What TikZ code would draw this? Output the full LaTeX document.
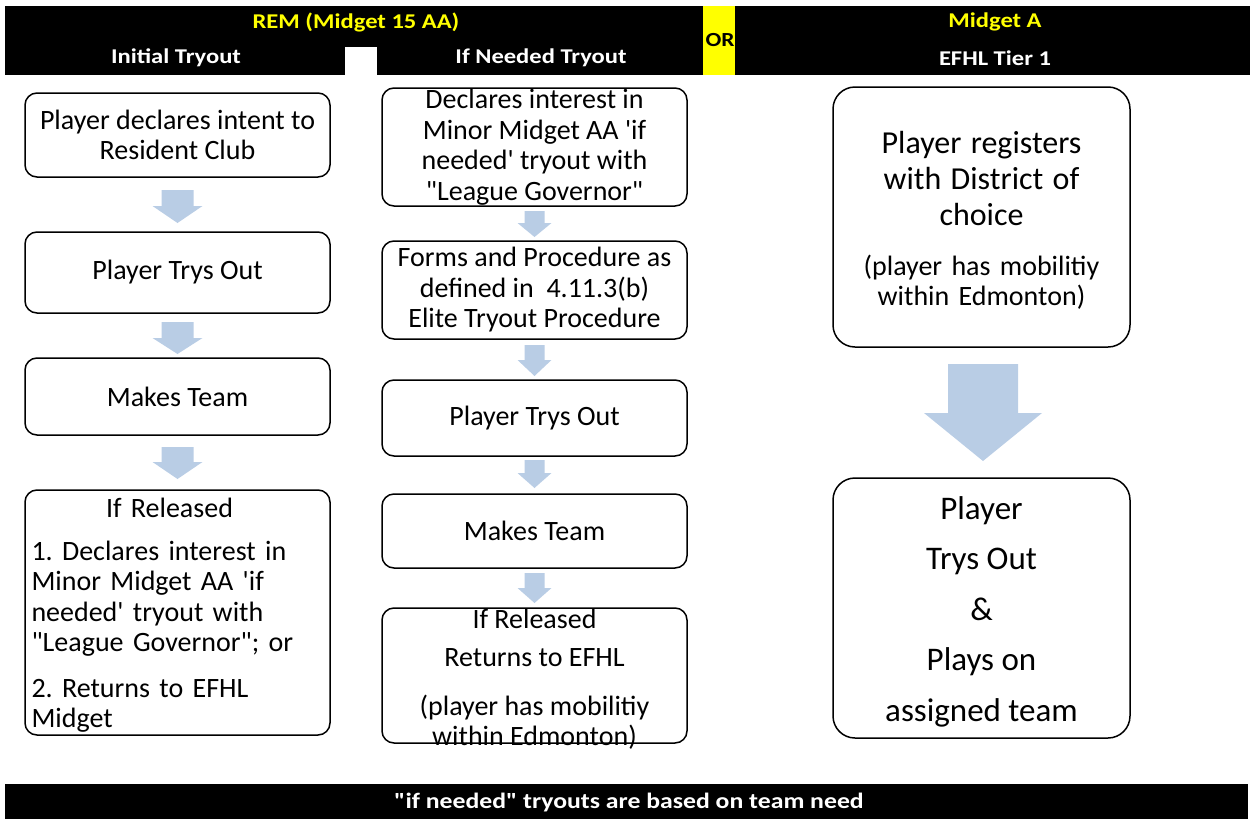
\documentclass[tikz,border=0pt]{standalone}
\usepackage{fontspec}
\setmainfont{Carlito}[Ligatures=TeXOff]
\newfontfamily\hdrfont{Carlito}[Ligatures=TeXOff, FakeStretch=1.17]
\frenchspacing
\definecolor{arrowblue}{HTML}{B9CDE5}
\definecolor{hdryellow}{HTML}{FFFF00}
\newcommand\barrow[6]{% cx, ytop, ybase, ytip, shafthalf, headhalf
  \fill[arrowblue] (#1-#5,#2) -- (#1+#5,#2) -- (#1+#5,#3) -- (#1+#6,#3) -- (#1,#4) -- (#1-#6,#3) -- (#1-#5,#3) -- cycle;}
\tikzset{
  box/.style={draw, line width=1.5pt, rounded corners=12pt, align=center, inner sep=0pt,
    font=\fontsize{28}{30.5}\selectfont},
  bigbox/.style={box, rounded corners=22pt},
  hdr/.style={font=\hdrfont\bfseries\fontsize{21}{24}\selectfont, inner sep=0pt},
}
\begin{document}
\begin{tikzpicture}[x=1pt,y=-1pt]
\useasboundingbox (0,0) rectangle (1252,819);
% header bar
\fill[black] (5,6) rectangle (703,75);
\fill[white] (345,47) rectangle (377,75);
\fill[hdryellow] (703,6) rectangle (735,75);
\fill[black] (735,6) rectangle (1250,75);
\node[hdr, text=hdryellow] (remt) at (356,22) {REM (Midget 15 AA)};
\node[hdr, text=white] (init) at (176,58) {Initial Tryout};
\node[hdr, text=white] (ifn) at (541,58) {If Needed Tryout};
\node[hdr, text=black, font=\hdrfont\bfseries\fontsize{20}{22}\selectfont] (or) at (720,40) {OR};
\node[hdr, text=hdryellow] (mida) at (995,22) {Midget A};
\node[hdr, text=white] (efhl) at (995,58) {EFHL Tier 1};
% footer bar
\fill[black] (5,784) rectangle (1248,819);
\node[hdr, text=white, font=\hdrfont\bfseries\fontsize{22}{24}\selectfont] (foot) at (629,802) {"if needed" tryouts are based on team need};

% left column
\node[box, minimum width=305pt, minimum height=84pt] (L1) at (177.5,135) {Player declares intent to\\Resident Club};
\node[box, minimum width=305pt, minimum height=81pt] (L2) at (177.5,272.5) {Player Trys Out};
\node[box, minimum width=305pt, minimum height=77pt] (L3) at (177.5,396.5) {Makes Team};
\node[box, minimum width=305pt, minimum height=245pt, text width=292pt, align=left] (L4) at (177.5,612.5)
  {\rule{0pt}{25pt}\makebox[276pt]{If Released}\\[12pt]1. Declares interest in\\Minor Midget AA 'if\\needed' tryout with\\"League Governor"; or\\[15pt]2. Returns to EFHL\\Midget};
\barrow{177.5}{190}{206}{223}{16}{25}
\barrow{177.5}{322}{338}{354}{16}{25}
\barrow{177.5}{447}{462}{479}{16}{25}

% middle column
\node[box, minimum width=305pt, minimum height=118pt] (M1) at (534.5,147) {Declares interest in\\Minor Midget AA 'if\\needed' tryout with\\"League Governor"};
\node[box, minimum width=305pt, minimum height=98pt] (M2) at (534.5,290) {Forms and Procedure as\\defined in~ 4.11.3(b)\\Elite Tryout Procedure};
\node[box, minimum width=305pt, minimum height=76pt] (M3) at (534.5,418) {Player Trys Out};
\node[box, minimum width=305pt, minimum height=74pt] (M4) at (534.5,531) {Makes Team};
\node[box, minimum width=305pt, minimum height=135pt, inner ysep=-12pt] (M5) at (534.5,675.5) {\rule{0pt}{27pt}If Released\\[8pt]Returns to EFHL\\[18pt](player has mobilitiy\\within Edmonton)};
\barrow{534.5}{211}{223}{237}{10}{17}
\barrow{534.5}{345}{360}{376}{10}{17}
\barrow{534.5}{460}{473}{488}{10}{17}
\barrow{534.5}{573}{588}{603}{10}{17}

% right column
\node[bigbox, minimum width=297pt, minimum height=260pt, text width=290pt] (R1) at (981.5,217)
  {{\fontsize{32}{36}\selectfont \rule{0pt}{29pt}Player registers\\with District of\\choice\par}\vskip 19pt
   {\fontsize{28}{30.5}\selectfont (player has mobilitiy\\within Edmonton)\par}};
\node[bigbox, minimum width=297pt, minimum height=260pt, font=\fontsize{33}{50.5}\selectfont] (R2) at (981.5,608)
  {\rule{0pt}{30pt}Player\\Trys Out\\\&\\Plays on\\assigned team};
\barrow{983}{364}{413}{461}{35}{59}
\end{tikzpicture}
\end{document}
